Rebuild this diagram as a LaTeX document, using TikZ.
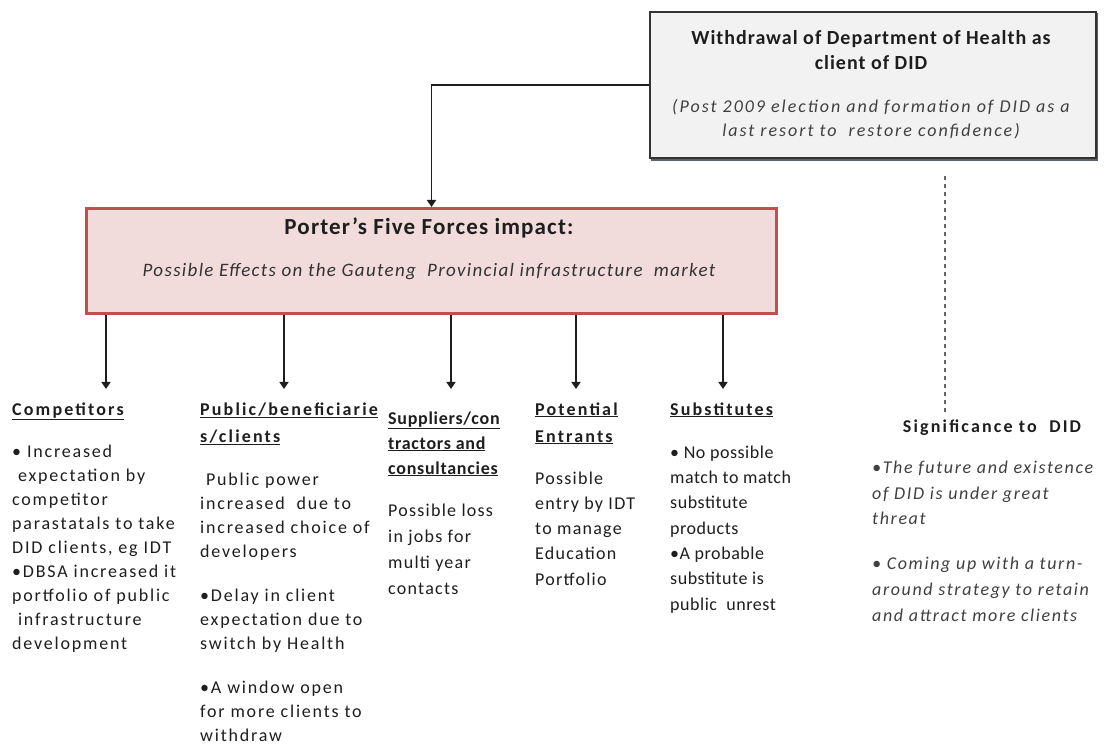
\documentclass[tikz,border=0pt]{standalone}
\usepackage{fontspec}
\setmainfont{Carlito}
\usetikzlibrary{arrows.meta}
\definecolor{redb}{HTML}{C0504D}
\definecolor{pinkf}{HTML}{F2DCDB}
\definecolor{grayf}{HTML}{F2F2F2}
\definecolor{grayb}{HTML}{333333}
\definecolor{shadowc}{HTML}{5A6270}
\definecolor{txt}{HTML}{1E1E1E}
\newcommand{\ul}[1]{\underline{#1}}
\newcommand{\ls}[1]{\addfontfeatures{LetterSpace=#1}}
\begin{document}
\begin{tikzpicture}[x=1pt,y=-1pt,
  col/.style={anchor=base west, align=left, inner sep=0pt, text=txt},
  conn/.style={draw=txt, line width=1.6pt},
  tip/.style={-{Triangle[width=9pt,length=7pt]}},
  dotline/.style={draw=black!60, line width=1.3pt, dash pattern=on 4pt off 4pt}
]
\useasboundingbox[fill=white] (0,0) rectangle (1109,751);
% top box with shadow
\fill[shadowc] (651,13) rectangle (1098,161);
\node[draw=grayb, fill=grayf, line width=2pt, minimum width=446pt, minimum height=146pt, anchor=north west, inner sep=0pt] (top) at (649,11) {};
\node[align=center, text=txt, font=\bfseries\fontsize{20}{25}\selectfont\ls{5}] (topt) at (871,50.5) {Withdrawal of Department of Health as\\client of DID};
\node[align=center, text=black!75, font=\itshape\fontsize{18}{23.5}\selectfont\ls{11}] (tops) at (871,119) {(Post 2009 election and formation of DID as a\\last resort to\ \ restore confidence)};
% red box
\node[draw=redb, fill=pinkf, line width=3pt, minimum width=690pt, minimum height=105pt, anchor=north west, inner sep=0pt] (pf) at (85,207) {};
\node[text=txt, font=\bfseries\fontsize{23}{23}\selectfont\ls{5}] (pft) at (429,228) {Porter’s Five Forces impact:};
\node[text=black!80, font=\itshape\fontsize{19}{19}\selectfont\ls{7}] (pfs) at (429,272) {Possible Effects on the Gauteng\ \ Provincial infrastructure\ \ market};
% connectors
\draw[conn,tip] (top.west) -| (pf.north);
\coordinate (a1) at (106,389);
\coordinate (a2) at (284,389);
\coordinate (a3) at (451,389);
\coordinate (a4) at (576,389);
\coordinate (a5) at (723,389);
\foreach \c in {a1,a2,a3,a4,a5}{\draw[conn,tip] (pf.south -| \c) -- (\c);}
\coordinate (d1) at (945,176);
\coordinate (d2) at (945,414);
\draw[dotline] (d1) -- (d2);
% Competitors
\node[col, font=\bfseries\fontsize{18}{18}\selectfont\ls{12}] (h1) at (12,415) {\ul{Competitors}};
\node[col, font=\fontsize{18}{24}\selectfont\ls{10}] (b1) at (12,649) {• Increased\\\ expectation by\\competitor\\parastatals to take\\DID clients, eg IDT\\•DBSA increased it\\portfolio of public\\\ infrastructure\\development};
% Public
\node[col, font=\bfseries\fontsize{18}{27}\selectfont\ls{12}] (h2) at (200,442) {\ul{Public/beneficiarie}\\\ul{s/clients}};
\node[col, font=\fontsize{18}{23.7}\selectfont\ls{10}] (b2) at (200,741) {\ Public power\\increased\ \ due to\\increased choice of\\developers\\[20.9pt]•Delay in client\\expectation due to\\switch by Health\\[20.9pt]•A window open\\for more clients to\\withdraw};
% Suppliers
\node[col, font=\bfseries\fontsize{18}{25}\selectfont\ls{4}] (h3) at (388,474) {\ul{Suppliers/con}\\\ul{tractors and}\\\ul{consultancies}};
\node[col, font=\fontsize{18}{25.7}\selectfont\ls{7}] (b3) at (388,594) {Possible loss\\in jobs for\\multi year\\contacts};
% Potential entrants
\node[col, font=\bfseries\fontsize{18}{27}\selectfont\ls{12}] (h4) at (535,442) {\ul{Potential}\\\ul{Entrants}};
\node[col, font=\fontsize{18}{25.25}\selectfont\ls{7}] (b4) at (535,585) {Possible\\entry by IDT\\to manage\\Education\\Portfolio};
% Substitutes
\node[col, font=\bfseries\fontsize{18}{18}\selectfont\ls{12}] (h5) at (670,415) {\ul{Substitutes}};
\node[col, font=\fontsize{18}{25.33}\selectfont\ls{3}] (b5) at (670,610) {• No possible\\match to match\\substitute\\products\\•A probable\\substitute is\\public\ \ unrest};
% Significance
\node[anchor=base, inner sep=0pt, text=txt, font=\bfseries\fontsize{18}{18}\selectfont\ls{12}] (h6) at (992,432) {Significance to\ \ DID};
\node[col, text=black!75, font=\itshape\fontsize{18}{25.6}\selectfont\ls{9}] (b6) at (872,621) {•The future and existence\\of DID is under great\\threat\\[19.4pt]• Coming up with a turn-\\around strategy to retain\\and attract more clients};
\end{tikzpicture}
\end{document}
